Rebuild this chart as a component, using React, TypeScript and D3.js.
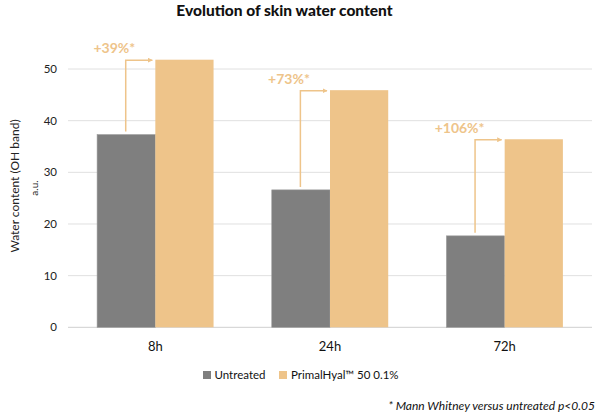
import React from "react";
import * as d3 from "d3";

const categories = ["8h", "24h", "72h"];
const untreated = [37.3, 26.6, 17.7];
const primal = [51.8, 45.9, 36.4];
const increases = ["+39%*", "+73%*", "+106%*"];
const yTicks = [0, 10, 20, 30, 40, 50];
const seriesNames = ["Untreated", "PrimalHyal™ 50 0.1%"];

const W = 600;
const H = 414;
const GRAY = "#7f7f7f";
const ORANGE = "#eec48a";
const FONT = "Lato, 'Open Sans', Arial, sans-serif";

export default function App() {
  const x = d3.scaleBand<string>().domain(categories).range([68, 592]).paddingInner(1 / 3).paddingOuter(1 / 6);
  const y = d3.scaleLinear().domain([0, 50]).range([327.3, 69]);
  const bw = x.bandwidth() / 2;

  return (
    <svg width={W} height={H} style={{ position: "absolute", left: 0, top: 0, background: "#fff" }}>
      <defs>
        <marker id="arr" viewBox="0 0 10 10" refX="9" refY="5" markerWidth="5" markerHeight="5" orient="auto" markerUnits="userSpaceOnUse">
          <path d="M0,0 L10,5 L0,10 Z" fill={ORANGE} />
        </marker>
      </defs>
      <text x={284.5} y={15.5} textAnchor="middle" fontFamily={FONT} fontWeight={900} fontSize={15.5} fill="#111">
        Evolution of skin water content
      </text>
      {yTicks.map((t) => (
        <g key={t}>
          <line x1={68} x2={592} y1={y(t)} y2={y(t)} stroke={t === 0 ? "#cfcfcf" : "#e0e0e0"} strokeWidth={1} />
          <text x={57} y={y(t)} dy="0.35em" textAnchor="end" fontFamily={FONT} fontSize={11.5} fill="#222">
            {t}
          </text>
        </g>
      ))}
      <text transform="translate(19,186) rotate(-90)" textAnchor="middle" fontFamily={FONT} fontSize={12} fill="#222">
        Water content (OH band)
      </text>
      <text transform="translate(38,188) rotate(-90)" textAnchor="middle" fontFamily={FONT} fontSize={10} fill="#222">
        a.u.
      </text>
      {categories.map((c, i) => {
        const x0 = x(c)!;
        const vx = x0 + bw / 2 - 0.5;
        const topY = y(primal[i]) + 0.5;
        return (
          <g key={c}>
            <rect x={x0} y={y(untreated[i])} width={bw} height={y(0) - y(untreated[i])} fill={GRAY} stroke="#999" strokeWidth={0.6} />
            <rect x={x0 + bw} y={y(primal[i])} width={bw} height={y(0) - y(primal[i])} fill={ORANGE} />
            <path
              d={`M${vx},${y(untreated[i]) - 3} V${topY} H${x0 + bw - 3}`}
              fill="none"
              stroke={ORANGE}
              strokeWidth={1.5}
              markerEnd="url(#arr)"
            />
            <text x={vx + 9.5} y={topY - 7} textAnchor="end" fontFamily={FONT} fontWeight={700} fontSize={14} fill={ORANGE}>
              {increases[i]}
            </text>
            <text x={x0 + bw} y={346} dy="0.35em" textAnchor="middle" fontFamily={FONT} fontSize={13} fill="#111">
              {c}
            </text>
          </g>
        );
      })}
      <rect x={203} y={371} width={8} height={8} fill={GRAY} />
      <text x={214.5} y={375} dy="0.35em" fontFamily={FONT} fontSize={11.5} fill="#111">
        {seriesNames[0]}
      </text>
      <rect x={279} y={371} width={8} height={8} fill={ORANGE} />
      <text x={291} y={375} dy="0.35em" fontFamily={FONT} fontSize={11.5} fill="#111">
        {seriesNames[1]}
      </text>
      <text x={595} y={406} dy="0.35em" textAnchor="end" fontFamily={FONT} fontStyle="italic" fontSize={12} fill="#111">
        * Mann Whitney versus untreated p&lt;0.05
      </text>
    </svg>
  );
}
